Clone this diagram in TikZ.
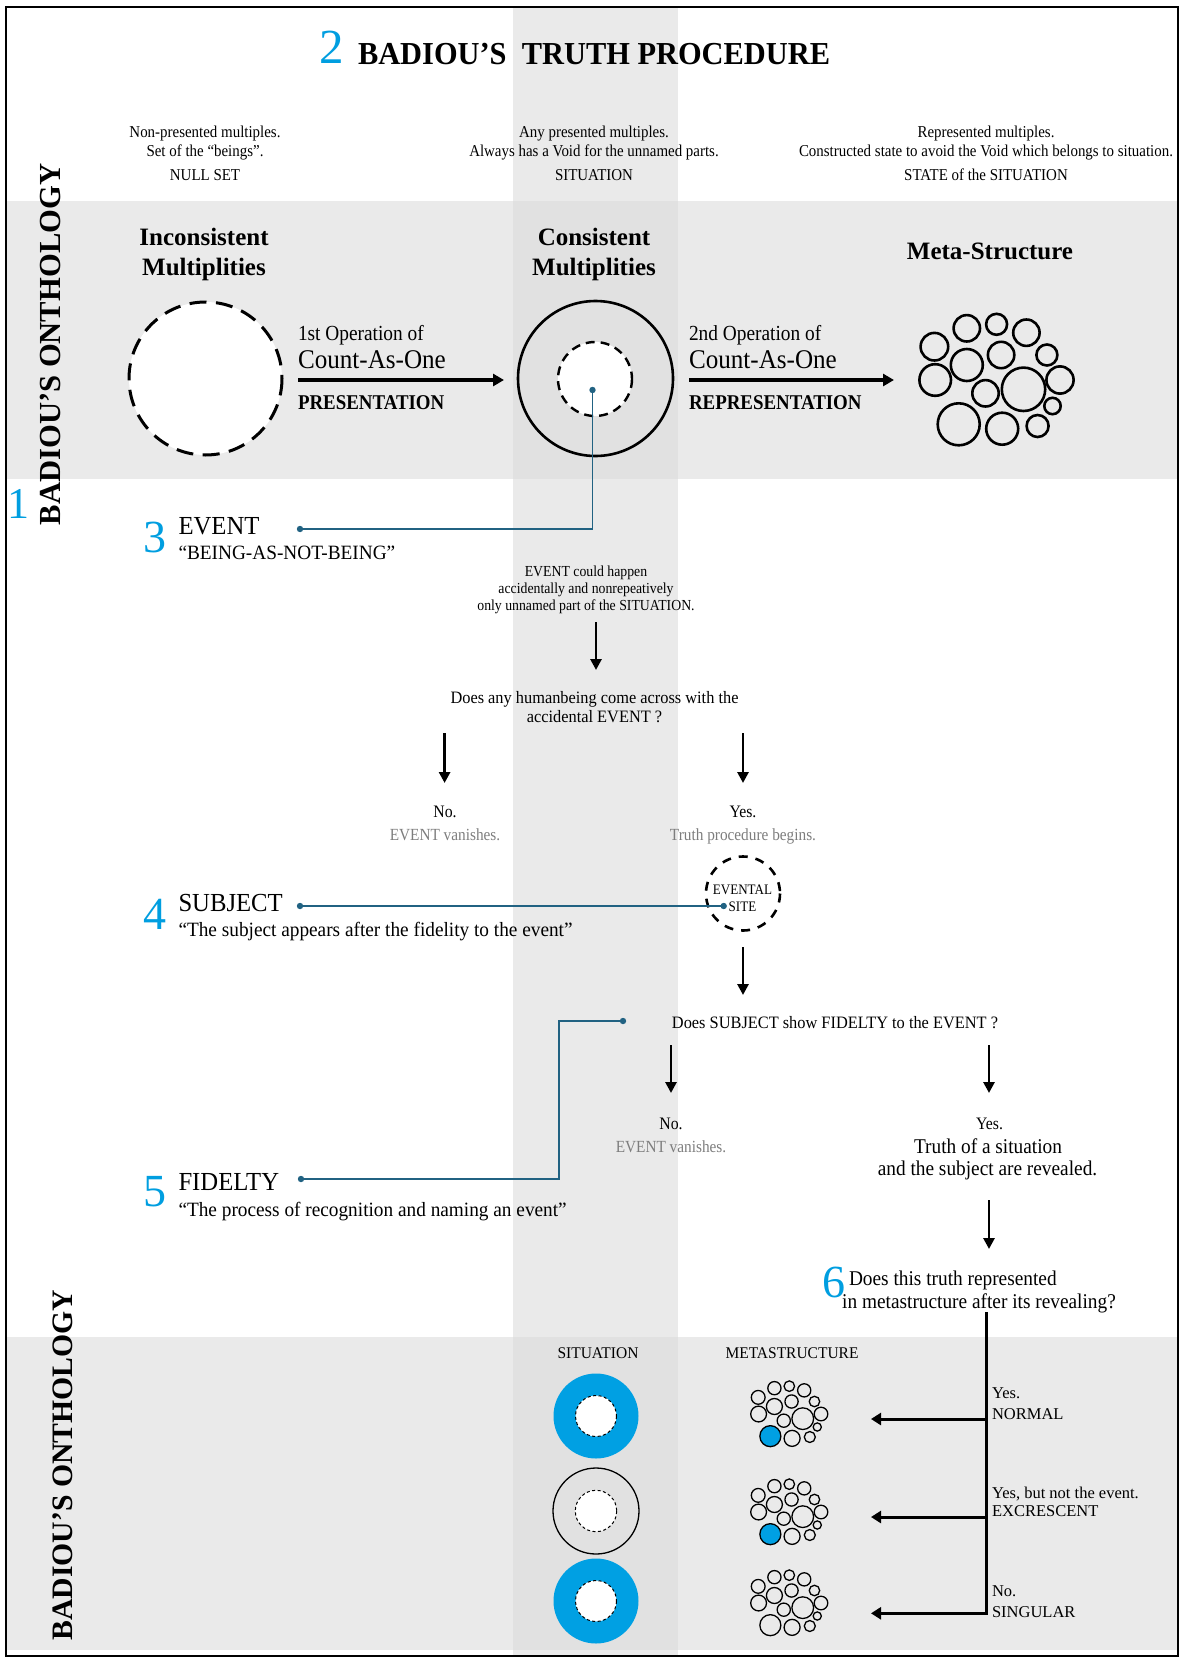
\documentclass[tikz,border=0pt]{standalone}
\usepackage{fontspec}
\setmainfont{Liberation Serif}
\usetikzlibrary{arrows.meta}

\newcommand\pxfont[1]{\fontsize{#1pt}{#1pt}\selectfont}

\definecolor{bandgray}{RGB}{234,234,234}
\definecolor{colgray}{RGB}{234,234,234}
\definecolor{overgray}{RGB}{225,225,225}
\definecolor{numblue}{RGB}{0,158,224}
\definecolor{ringblue}{RGB}{0,160,227}
\definecolor{linkteal}{RGB}{33,98,130}
\definecolor{softgray}{RGB}{125,125,125}

\tikzset{
  lbl/.style={inner sep=0pt, outer sep=0pt, anchor=base},
  lblw/.style={inner sep=0pt, outer sep=0pt, anchor=base west},
  hdr/.style={lbl, font=\pxfont{16.6}, xscale=0.9},
  heading/.style={lbl, font=\bfseries\pxfont{25}},
  oplabel/.style={lblw, font=\pxfont{21.5}, xscale=0.9},
  opbig/.style={lblw, font=\pxfont{27}, xscale=0.93},
  opbold/.style={lblw, font=\bfseries\pxfont{21}, xscale=0.9},
  num/.style={lblw, font=\pxfont{46}, text=numblue, text height=31pt, text depth=0pt},
  ttl/.style={lblw, font=\pxfont{26}, xscale=0.95, text height=18pt, text depth=1pt},
  subttl/.style={lblw, font=\pxfont{20.3}, xscale=0.95, text height=14.5pt, text depth=4.5pt},
  note/.style={lbl, font=\pxfont{15.3}, xscale=0.9},
  ask/.style={lbl, font=\pxfont{17.4}, xscale=0.94},
  ans/.style={lbl, font=\pxfont{17.5}, xscale=0.9},
  ansgray/.style={lbl, font=\pxfont{17}, xscale=0.9, text=softgray},
  sitelbl/.style={lbl, font=\pxfont{14.5}, xscale=0.9},
  big/.style={lbl, font=\pxfont{21}, xscale=0.92},
  side/.style={inner sep=0pt, rotate=90, anchor=base},
  colhead/.style={lbl, font=\pxfont{16.3}, xscale=0.95},
  verdict/.style={lblw, font=\pxfont{16.5}},
  bigarrow/.style={line width=3.2pt, -{Triangle[length=11pt,width=12pt]}},
  downarrow/.style={line width=2.8pt, -{Triangle[length=11pt,width=11pt]}},
  leftarrow/.style={line width=3pt, line join=miter, -{Triangle[length=10pt,width=12pt]}},
  link/.style={draw=linkteal, line width=1.8pt},
  bigdash/.style={line width=3pt, dash pattern=on 17pt off 9.5pt},
  meddash/.style={line width=2.4pt, dash pattern=on 9pt off 6pt},
  sitedash/.style={line width=2.6pt, dash pattern=on 9pt off 8pt},
  smalldash/.style={line width=1pt, dash pattern=on 3pt off 2.5pt},
}

% cluster of circles of the meta-structure, around (0,0); #1 = fill of the marked circle
\newcommand\metacircles[1]{%
  \foreach \cx/\cy/\r in {-29.2/-50.7/13.2, 0.6/-54.7/10.5, 30.4/-46.3/13.2,
      -61.6/-32.3/13.8, 5.1/-24/13.2, 50.9/-24/10.5, -29.2/-14/16,
      -60.8/1/15.8, 64/1/13.6, 27.5/10.3/21.7, -10.5/14.3/13.2,
      56.5/27/8.2, 6.2/49.7/16, 41.6/47/11}
    {\draw (\cx,\cy) circle (\r);}
  \draw[fill=#1] (-37.3,45.3) circle (21);
}

\begin{document}
\begin{tikzpicture}[x=1pt,y=-1pt]
\useasboundingbox (0,0) rectangle (1184,1659);

% ---------- background bands and column ----------
\fill[bandgray] (6,201) rectangle (1178,479);
\fill[bandgray] (6,1337) rectangle (1178,1650);
\fill[colgray] (512.5,8) rectangle (677.5,1656);
\fill[overgray] (512.5,201) rectangle (677.5,479);
\fill[overgray] (512.5,1337) rectangle (677.5,1650);
\draw[line width=2pt] (6,7.5) rectangle (1178,1656);

% ---------- title ----------
\node[num, font=\pxfont{49}, text height=33pt] (secTwo) at (319.5,64) {2};
\node[lblw, font=\bfseries\pxfont{32}, xscale=0.95] (title) at (358,65) {BADIOU’S\ \ TRUTH PROCEDURE};

% ---------- side labels ----------
\node[side, font=\bfseries\pxfont{30.6}] (ontoTop) at (60,344.5) {BADIOU’S ONTHOLOGY};
\node[side, font=\bfseries\pxfont{29.7}] (ontoBot) at (72,1465) {BADIOU’S ONTHOLOGY};
\node[num, font=\pxfont{44}, text height=30pt] (secOne) at (7,518) {1};

% ---------- column headers ----------
\node[hdr] (h1a) at (205,137.5) {Non-presented multiples.};
\node[hdr] (h1b) at (205,156) {Set of the “beings”.};
\node[hdr] (h1c) at (205,180.5) {NULL SET};
\node[hdr] (h2a) at (594,137.5) {Any presented multiples.};
\node[hdr] (h2b) at (594,156) {Always has a Void for the unnamed parts.};
\node[hdr] (h2c) at (594,180.5) {SITUATION};
\node[hdr] (h3a) at (986,137.5) {Represented multiples.};
\node[hdr] (h3b) at (986,156) {Constructed state to avoid the Void which belongs to situation.};
\node[hdr] (h3c) at (986,180.5) {STATE of the SITUATION};

% ---------- ontology row ----------
\node[heading] (incA) at (204,245.5) {Inconsistent};
\node[heading] (incB) at (204,275) {Multiplities};
\node[heading] (conA) at (594,245.5) {Consistent};
\node[heading] (conB) at (594,275) {Multiplities};
\node[heading] (meta) at (990,259) {Meta-Structure};

\coordinate (incC) at (205.5,378.5);
\draw[bigdash, fill=white] (incC) circle (76.5);
\coordinate (conC) at (595.5,378.5);
\coordinate (voidC) at (595,379);
\draw[line width=2.6pt] (conC) circle (77.5);
\draw[meddash, fill=white] (voidC) circle (37);

\coordinate (opAs) at (298,380);
\coordinate (opAe) at (504,380);
\draw[bigarrow] (opAs) -- (opAe);
\node[oplabel] (opAa) at (298,340) {1st Operation of};
\node[opbig] (opAb) at (298,368.5) {Count-As-One};
\node[opbold] (opAc) at (298,409) {PRESENTATION};

\coordinate (opBs) at (689,380);
\coordinate (opBe) at (894,380);
\draw[bigarrow] (opBs) -- (opBe);
\node[oplabel] (opBa) at (689,340) {2nd Operation of};
\node[opbig] (opBb) at (689,368.5) {Count-As-One};
\node[opbold] (opBc) at (689,409) {REPRESENTATION};

\begin{scope}[shift={(996,379)}, line width=2.6pt]
  \metacircles{none}
\end{scope}

% ---------- 3 EVENT ----------
\node[num] (secThree) at (143.5,552) {3};
\node[ttl] (evT) at (178.5,534) {EVENT};
\node[subttl] (evS) at (178.5,559) {“BEING-AS-NOT-BEING”};
\coordinate (evDot) at (300,529);
\coordinate (voidDot) at (592.5,390);
\draw[link] (evDot) -| (voidDot);
\fill[linkteal] (evDot) circle (3.2);
\fill[linkteal] (voidDot) circle (3.2);

\node[note] (evN1) at (586,576) {EVENT could happen};
\node[note] (evN2) at (586,593) {accidentally and nonrepeatively};
\node[note] (evN3) at (586,610) {only unnamed part of the SITUATION.};
\coordinate (dA1) at (596,622);
\coordinate (dA2) at (596,670);
\draw[downarrow] (dA1) -- (dA2);

\node[ask] (q1a) at (594.5,703) {Does any humanbeing come across with the};
\node[ask] (q1b) at (594.5,722) {accidental EVENT ?};
\coordinate (dB1) at (444.6,733);
\coordinate (dB2) at (444.6,783);
\coordinate (dC1) at (743,733);
\coordinate (dC2) at (743,783);
\draw[downarrow] (dB1) -- (dB2);
\draw[downarrow] (dC1) -- (dC2);
\node[ans] (noA) at (445,817) {No.};
\node[ansgray] (noAg) at (445,840) {EVENT vanishes.};
\node[ans] (yesA) at (743,817) {Yes.};
\node[ansgray] (yesAg) at (743,840) {Truth procedure begins.};

% ---------- 4 SUBJECT and the evental site ----------
\coordinate (siteC) at (743,893.5);
\draw[sitedash] (siteC) circle (37);
\node[sitelbl] (siteA) at (742.5,894) {EVENTAL};
\node[sitelbl] (siteB) at (742.5,911) {SITE};

\node[num] (secFour) at (143.5,929) {4};
\node[ttl] (sbT) at (178.5,911) {SUBJECT};
\node[subttl] (sbS) at (178.5,936) {“The subject appears after the fidelity to the event”};
\coordinate (sbDot) at (300,906);
\coordinate (siteDot) at (723.7,906);
\draw[link] (sbDot) -- (siteDot);
\fill[linkteal] (sbDot) circle (3.2);
\fill[linkteal] (siteDot) circle (3.2);

\coordinate (dD1) at (743,947);
\coordinate (dD2) at (743,995);
\draw[downarrow] (dD1) -- (dD2);

\node[ask] (q2) at (835,1028) {Does SUBJECT show FIDELTY to the EVENT ?};
\coordinate (dE1) at (671,1045);
\coordinate (dE2) at (671,1093);
\coordinate (dF1) at (989,1045);
\coordinate (dF2) at (989,1093);
\draw[downarrow] (dE1) -- (dE2);
\draw[downarrow] (dF1) -- (dF2);
\node[ans] (noB) at (671,1129) {No.};
\node[ansgray] (noBg) at (671,1152) {EVENT vanishes.};
\node[ans] (yesB) at (989.5,1129) {Yes.};
\node[big] (yesB1) at (988,1153) {Truth of a situation};
\node[big] (yesB2) at (987.5,1175) {and the subject are revealed.};

% ---------- 5 FIDELTY ----------
\node[num] (secFive) at (143.5,1206) {5};
\node[ttl] (fdT) at (178.5,1190) {FIDELTY};
\node[subttl] (fdS) at (178.5,1216.5) {“The process of recognition and naming an event”};
\coordinate (fdDot) at (301,1179);
\coordinate (fdBend) at (559,1100);
\coordinate (qDot) at (623,1021);
\draw[link] (fdDot) -| (fdBend) |- (qDot);
\fill[linkteal] (fdDot) circle (3.2);
\fill[linkteal] (qDot) circle (3.2);

% ---------- 6 representation in the metastructure ----------
\coordinate (dG1) at (989,1200);
\coordinate (dG2) at (989,1249);
\draw[downarrow] (dG1) -- (dG2);
\node[num] (secSix) at (822,1297) {6};
\node[big, anchor=base west] (q6a) at (849,1285) {Does this truth represented};
\node[big] (q6b) at (979,1308) {in metastructure after its revealing?};

% ---------- bottom row ----------
\node[colhead] (sitHead) at (598,1358.5) {SITUATION};
\node[colhead] (metaHead) at (792,1358.5) {METASTRUCTURE};

\coordinate (sitA) at (596,1416);
\coordinate (sitB) at (596,1511);
\coordinate (sitC) at (596,1601);
\fill[ringblue] (sitA) circle (42.5);
\draw[smalldash, fill=white] (sitA) circle (20.5);
\draw[line width=1.3pt] (sitB) circle (43);
\draw[smalldash, fill=white] (sitB) circle (20.7);
\fill[ringblue] (sitC) circle (42.5);
\draw[smalldash, fill=white] (sitC) circle (20.5);

\begin{scope}[shift={(789,1413.5)}, scale=0.5, line width=1.3pt]
  \metacircles{ringblue}
\end{scope}
\begin{scope}[shift={(789,1511.5)}, scale=0.5, line width=1.3pt]
  \metacircles{ringblue}
\end{scope}
\begin{scope}[shift={(789,1602.5)}, scale=0.5, line width=1.3pt]
  \metacircles{none}
\end{scope}

\coordinate (treeTop) at (986.7,1312);
\coordinate (brA) at (986.7,1419);
\coordinate (brB) at (986.7,1517);
\coordinate (treeBot) at (986.7,1613.3);
\coordinate (tipA) at (871,1419);
\coordinate (tipB) at (871,1517);
\coordinate (tipC) at (871,1613.3);
\draw[leftarrow] (treeTop) -- (treeBot) -- (tipC);
\draw[leftarrow] (brA) -- (tipA);
\draw[leftarrow] (brB) -- (tipB);

\node[verdict] (vA1) at (992,1398) {Yes.};
\node[verdict] (vA2) at (992,1419) {NORMAL};
\node[verdict] (vB1) at (992,1498) {Yes, but not the event.};
\node[verdict] (vB2) at (992,1516) {EXCRESCENT};
\node[verdict] (vC1) at (992,1596.5) {No.};
\node[verdict] (vC2) at (992,1617) {SINGULAR};
\end{tikzpicture}
\end{document}
